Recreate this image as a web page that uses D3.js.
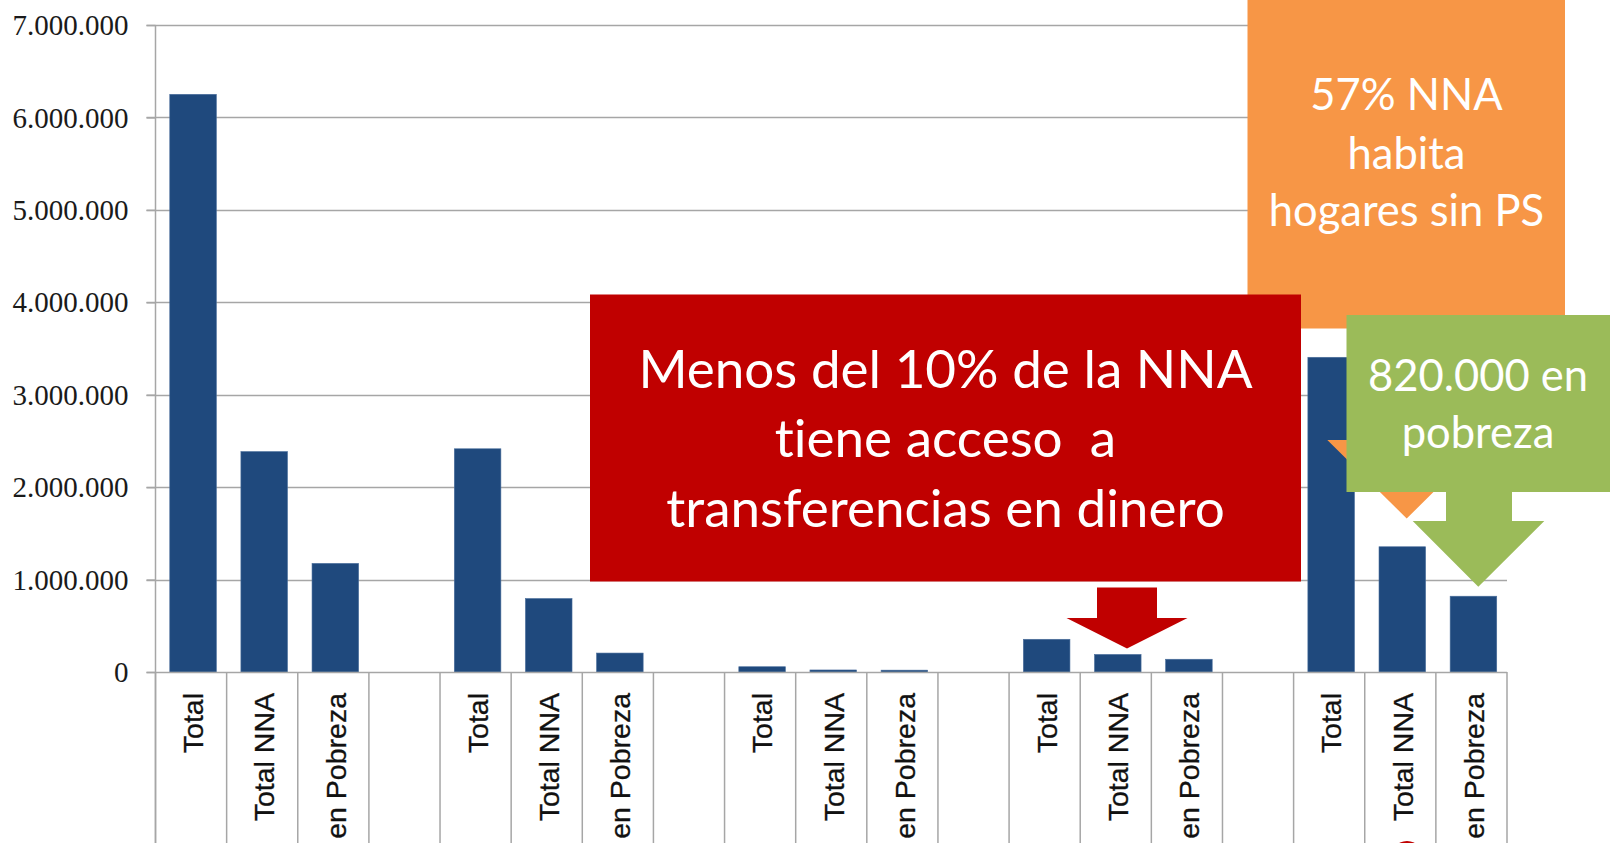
<!DOCTYPE html>
<html>
<head>
<meta charset="utf-8">
<script src="https://cdn.jsdelivr.net/npm/d3@7"></script>
<style>
  html, body { margin: 0; padding: 0; background: #fff; }
  svg { display: block; }
  text { font-variant-ligatures: none; font-feature-settings: "liga" 0, "clig" 0; }
</style>
</head>
<body>
<svg id="chart" width="1610" height="843"></svg>
<script>
// ---- data ----
const categories = [
  "Total", "Total NNA", "en Pobreza", "",
  "Total", "Total NNA", "en Pobreza", "",
  "Total", "Total NNA", "en Pobreza", "",
  "Total", "Total NNA", "en Pobreza", "",
  "Total", "Total NNA", "en Pobreza"
];
const values = [
  6250000, 2385000, 1175000, null,
  2415000, 795000, 205000, null,
  57000, 22000, 20000, null,
  354000, 190000, 138000, null,
  3405000, 1355000, 820000
];
const yTicks = [0, 1000000, 2000000, 3000000, 4000000, 5000000, 6000000, 7000000];
const redNote = ["Menos del 10% de la NNA", "tiene acceso  a", "transferencias en dinero"];
const orangeNote = ["57% NNA", "habita", "hogares sin PS"];
const greenNote = ["820.000 en", "pobreza"];

// ---- layout ----
const svg = d3.select("#chart");
const W = 1610, H = 843;
const x0 = 155.5, x1 = 1507, yZero = 672, yTop = 25;
const keys = categories.map((c, i) => i);
const x = d3.scaleBand().domain(keys).range([x0, x1]).padding(0);
const y = d3.scaleLinear().domain([0, 7000000]).range([yZero, yTop]);
const locale = d3.formatLocale({decimal: ",", thousands: ".", grouping: [3], currency: ["", ""]});
const fmt = locale.format(",d");
const gridColor = "#A6A6A6";
const bw = x.bandwidth();
const barW = bw * 0.655;
const barOff = (bw - barW) / 2 + 2;

// gridlines
svg.append("g").selectAll("line").data(yTicks.filter(d => d > 0)).join("line")
  .attr("x1", x0 - 9).attr("x2", x1)
  .attr("y1", d => Math.round(y(d)) + 0.5).attr("y2", d => Math.round(y(d)) + 0.5)
  .attr("stroke", gridColor).attr("stroke-width", 1.5);

// y axis via d3.axisLeft
const yAxis = d3.axisLeft(y).tickValues(yTicks).tickFormat(fmt).tickSize(9).tickPadding(18);
const gy = svg.append("g").attr("transform", `translate(${x0},0)`).call(yAxis);
gy.select(".domain").remove();
gy.selectAll(".tick line").attr("stroke", gridColor).attr("stroke-width", 1.5);
gy.selectAll(".tick text")
  .attr("font-family", "'Liberation Serif', 'Times New Roman', serif")
  .attr("font-size", 29).attr("fill", "#1a1a1a").attr("dy", "0.33em");

// bars
svg.append("g").selectAll("rect")
  .data(values.map((v, i) => ({i, v})).filter(d => d.v !== null))
  .join("rect")
  .attr("x", d => x(d.i) + barOff)
  .attr("width", barW)
  .attr("y", d => y(d.v))
  .attr("height", d => yZero - y(d.v))
  .attr("fill", "#1F497D")
  .attr("stroke", "#4A6E9C").attr("stroke-width", 0.6);

// y axis line
svg.append("line").attr("x1", x0).attr("x2", x0).attr("y1", yTop).attr("y2", H)
  .attr("stroke", gridColor).attr("stroke-width", 1.5);
// x axis line
svg.append("line").attr("x1", x0 - 9).attr("x2", x1).attr("y1", yZero + 0.5).attr("y2", yZero + 0.5)
  .attr("stroke", gridColor).attr("stroke-width", 1.5);
// category separators
const seps = keys.map(k => x(k) + bw).concat([x0]);
svg.append("g").selectAll("line").data(seps).join("line")
  .attr("x1", d => d).attr("x2", d => d).attr("y1", yZero).attr("y2", H)
  .attr("stroke", gridColor).attr("stroke-width", 1.5);

// category labels
svg.append("g").selectAll("text")
  .data(categories.map((c, i) => ({c, i})).filter(d => d.c !== ""))
  .join("text")
  .attr("transform", d => `translate(${x(d.i) + barOff + barW / 2},693) rotate(-90)`)
  .attr("text-anchor", "end")
  .attr("dy", "0.36em")
  .attr("font-family", "'Liberation Sans', Arial, sans-serif")
  .attr("font-size", 28.5)
  .attr("fill", "#111")
  .attr("stroke", "#111").attr("stroke-width", 0.3)
  .text(d => d.c);

// ---- annotations ----
const calloutFont = "Lato, 'Open Sans', sans-serif";
function addText(lines, cx, baselines, size) {
  const g = svg.append("g");
  lines.forEach((t, i) => {
    g.append("text").attr("x", cx).attr("y", baselines[i])
      .attr("text-anchor", "middle")
      .attr("font-family", calloutFont).attr("font-size", size)
      .attr("fill", "#fff").style("white-space", "pre")
      .text(t);
  });
}

// orange callout with down arrow
const orange = "#F79646";
svg.append("path").attr("fill", orange)
  .attr("d", "M1367,320 L1447,320 L1447,440 L1486,440 L1406.7,518.5 L1327.3,440 L1367,440 Z");
svg.append("rect").attr("x", 1247.5).attr("y", -2).attr("width", 317.5).attr("height", 330.5).attr("fill", orange);
addText(orangeNote, 1406.5, [110, 168.5, 226], 43.5);

// red callout
const red = "#C00000";
svg.append("rect").attr("x", 590).attr("y", 294.5).attr("width", 711).attr("height", 287).attr("fill", red);
addText(redNote, 945.5, [387.5, 456.5, 527], 53);
svg.append("path").attr("fill", red)
  .attr("d", "M1097,587.5 L1157,587.5 L1157,618 L1187.5,618 L1127,648.5 L1066.5,618 L1097,618 Z");

// green callout with down arrow
const green = "#9BBB59";
svg.append("rect").attr("x", 1346.5).attr("y", 315).attr("width", 264).attr("height", 177).attr("fill", green);
svg.append("path").attr("fill", green)
  .attr("d", "M1446,491 L1512,491 L1512,521 L1544.3,521 L1478.3,586.7 L1412.7,521 L1446,521 Z");
addText(greenNote, 1478, [391, 447.5], 43.5);

// red shape peeking at the bottom edge
svg.append("ellipse").attr("cx", 1407).attr("cy", 862).attr("rx", 18).attr("ry", 21).attr("fill", red);
</script>
</body>
</html>
